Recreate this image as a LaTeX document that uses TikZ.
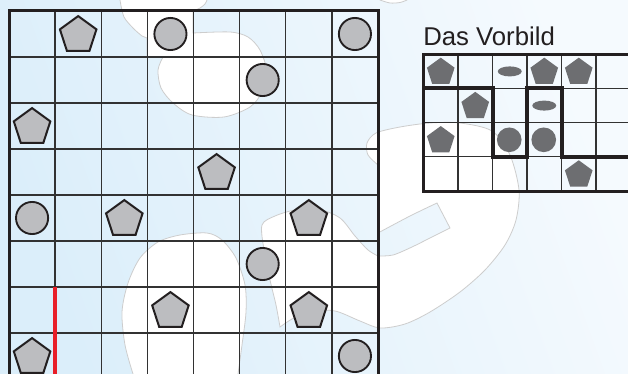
\documentclass[tikz,border=0pt]{standalone}
\usepackage{fontspec}
\setmainfont{Liberation Sans}
\usetikzlibrary{shapes.geometric}
\definecolor{bgdark}{RGB}{219,238,250}
\definecolor{bglight}{RGB}{245,250,254}
\definecolor{blobline}{RGB}{205,205,205}
\definecolor{ink}{RGB}{35,31,32}
\definecolor{gridgray}{RGB}{50,50,50}
\definecolor{shapegray}{RGB}{188,189,192}
\definecolor{darkshape}{RGB}{109,110,113}
\definecolor{redmark}{RGB}{232,30,40}
\begin{document}
\begin{tikzpicture}[x=0.75pt,y=-0.75pt,
  blob/.style={fill=white, draw=blobline, line width=0.6pt},
  gridline/.style={draw=gridgray, line width=1pt},
  smallgridline/.style={draw=gridgray, line width=0.8pt},
  border/.style={draw=ink, line width=2.25pt},
  pent/.style={regular polygon, regular polygon sides=5, minimum size=28.8pt, inner sep=0pt, fill=shapegray, draw=ink, line width=1.5pt},
  disc/.style={circle, minimum size=24.1pt, inner sep=0pt, fill=shapegray, draw=ink, line width=1.4pt},
  spent/.style={regular polygon, regular polygon sides=5, minimum size=21.8pt, inner sep=0pt, fill=darkshape},
  sellip/.style={ellipse, minimum width=18pt, minimum height=7.5pt, inner sep=0pt, fill=darkshape},
  sdisc/.style={circle, minimum size=18.5pt, inner sep=0pt, fill=darkshape},
  pathline/.style={draw=ink, line width=3pt}
]
\useasboundingbox (0,0) rectangle (628,374);
\clip (0,0) rectangle (628,374);
% background
\begin{scope}[y=0.75pt]
  \shade[top color=bglight, bottom color=bgdark, shading angle=-70] (0,-374) rectangle (628,0);
\end{scope}
% white blobs
\path[blob] (118,-3) -- plot[smooth] coordinates {(120,0) (124,17) (134,29) (142,36)} -- (147,38) -- (147,57) -- (163,57)
  -- plot[smooth] coordinates {(163,57) (158,70) (161,88) (173,103) (192,115) (224,117) (250,107) (262,92) (267,72) (260,50) (248,37) (230,32) (193,33)}
  -- (193,11) -- plot[smooth] coordinates {(193,11) (200,8) (205,4) (207,0)} -- (208,-3) -- cycle;
\path[blob] (133,380) -- plot[smooth] coordinates {(133,374) (125,345) (122,312) (128,283) (140,258) (158,242) (180,235) (207,233) (222,240) (236,258) (245,285) (246,312) (242,345) (238,374)} -- (238,380) -- cycle;
\path[blob] (378,165)
  -- plot[smooth] coordinates {(378,165) (368,155) (367,143) (376,133) (400,127) (430,123) (460,123) (492,131) (510,155) (519,190) (516,220) (505,245) (485,270) (460,292) (430,312) (405,324) (380,328) (360,321) (335,311) (310,311) (292,319) (280,327)}
  -- plot[smooth] coordinates {(280,327) (276,305) (270,280) (264,250) (262,225) (275,216) (295,210) (318,209) (340,218) (355,236) (368,250) (378,256)}
  -- plot[smooth] coordinates {(378,256) (393,255) (412,247) (430,238) (450,228)}
  -- (437,203)
  -- plot[smooth] coordinates {(437,203) (410,216) (378,233)} -- cycle;
\path[blob] (378,-3) -- plot[smooth] coordinates {(380,0) (390,3) (400,2.5) (407,0)} -- (408,-3) -- cycle;
% main grid
\foreach \i in {1,...,7} \draw[gridline] ({9+46.125*\i},11) -- ({9+46.125*\i},380);
\foreach \j in {1,...,7} \draw[gridline] (9,{11+46*\j}) -- (378,{11+46*\j});
\draw[border] (9,380) -- (9,11) -- (378,11) -- (378,380);
% red mark
\coordinate (rtop) at (55.1,287);
\coordinate (rbot) at (55.1,380);
\draw[draw=redmark, line width=3.4pt] (rtop) -- (rbot);
% main shapes
\foreach \c/\r [count=\k] in {1/0,0/2,4/3,2/4,6/4,3/6,6/6,0/7}
  \node[pent] (P\k) at ({9+46.125*(\c+0.5)},{11+46*(\r+0.5)+1.3}) {};
\foreach \c/\r [count=\k] in {3/0,7/0,5/1,0/4,5/5,7/7}
  \node[disc] (C\k) at ({9+46.125*(\c+0.5)},{11+46*(\r+0.5)}) {};
% title
\node[anchor=base west, inner sep=0pt, text=ink, font=\fontsize{19.3}{20}\selectfont] (title) at (423,45.7) {Das Vorbild};
% small grid
\foreach \i in {1,...,6} \draw[smallgridline] ({423.5+34.5*\i},54.3) -- ({423.5+34.5*\i},191.1);
\foreach \j in {1,...,3} \draw[smallgridline] (423.5,{54.3+34.2*\j}) -- (640,{54.3+34.2*\j});
\draw[border] (640,54.3) -- (423.5,54.3) -- (423.5,191.1) -- (640,191.1);
\draw[pathline] (423.5,88.5) -- (492.5,88.5) -- (492.5,156.9) -- (527,156.9) -- (527,88.5) -- (561.5,88.5) -- (561.5,156.9) -- (640,156.9);
\foreach \c/\r [count=\k] in {0/0,3/0,4/0,1/1,0/2,4/3}
  \node[spent] (SP\k) at ({423.5+34.5*(\c+0.5)},{54.3+34.2*(\r+0.5)+0.8}) {};
\foreach \c/\r [count=\k] in {2/0,3/1}
  \node[sellip] (SE\k) at ({423.5+34.5*(\c+0.5)},{54.3+34.2*(\r+0.5)}) {};
\foreach \c/\r [count=\k] in {2/2,3/2}
  \node[sdisc] (SD\k) at ({423.5+34.5*(\c+0.5)-0.5},{54.3+34.2*(\r+0.5)}) {};
\end{tikzpicture}
\end{document}
